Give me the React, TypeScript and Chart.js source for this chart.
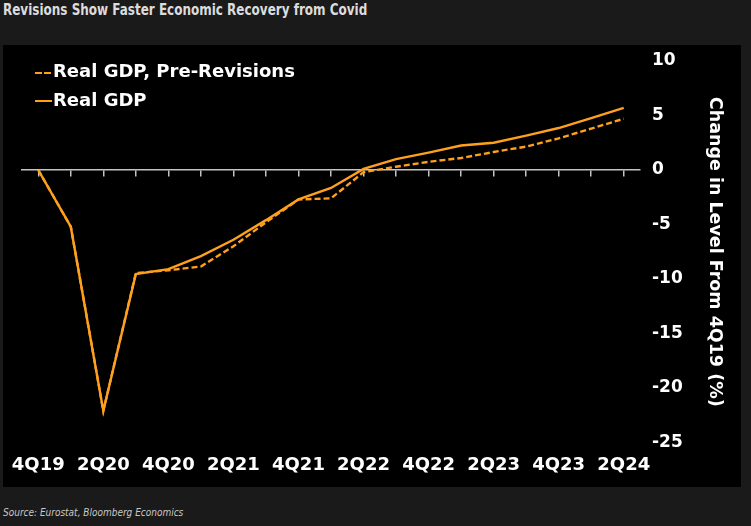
import React, { useEffect, useRef } from 'react';
import { Chart, registerables } from 'chart.js';

Chart.register(...registerables);

const quarters = [
  '4Q19', '1Q20', '2Q20', '3Q20', '4Q20', '1Q21', '2Q21', '3Q21', '4Q21', '1Q22',
  '2Q22', '3Q22', '4Q22', '1Q23', '2Q23', '3Q23', '4Q23', '1Q24', '2Q24',
];
const xTickLabels = ['4Q19', '2Q20', '4Q20', '2Q21', '4Q21', '2Q22', '4Q22', '2Q23', '4Q23', '2Q24'];

const realGdp = [0, -5.2, -22.1, -9.55, -9.1, -7.9, -6.4, -4.6, -2.7, -1.65, 0.1, 1.0, 1.6, 2.25, 2.5, 3.15, 3.85, 4.75, 5.7];
const realGdpPre = [0, -5.2, -22.1, -9.45, -9.2, -8.85, -7.0, -4.8, -2.7, -2.6, -0.2, 0.3, 0.75, 1.1, 1.65, 2.15, 2.9, 3.8, 4.7];

const seriesNames = ['Real GDP, Pre-Revisions', 'Real GDP'];
const yMin = -25;
const yMax = 10;
const yStep = 5;
const yTitle = 'Change in Level From 4Q19 (%)';

const ORANGE = '#ffa01c';
const AXIS_GREY = '#c4c4c4';
const FONT = "'DejaVu Sans', sans-serif";
const NARROW = "'Liberation Sans Narrow', 'DejaVu Sans Condensed', sans-serif";

export default function App() {
  const ref = useRef<HTMLCanvasElement>(null);

  useEffect(() => {
    document.body.style.margin = '0';
    document.body.style.background = '#1a1a1a';
    const canvas = ref.current!;
    const chart = new Chart(canvas, {
      type: 'line',
      data: {
        labels: quarters,
        datasets: [
          {
            label: seriesNames[1],
            data: realGdp,
            borderColor: ORANGE,
            borderWidth: 2.4,
            pointRadius: 0,
            tension: 0,
            fill: false,
          },
          {
            label: seriesNames[0],
            data: realGdpPre,
            borderColor: ORANGE,
            borderWidth: 2.4,
            borderDash: [6, 3],
            pointRadius: 0,
            tension: 0,
            fill: false,
          },
        ],
      },
      options: {
        responsive: false,
        animation: false,
        maintainAspectRatio: false,
        layout: { padding: { left: 19, top: 16, right: 0, bottom: 0 } },
        plugins: {
          legend: { display: false },
          tooltip: { enabled: false },
          title: { display: false },
        },
        scales: {
          x: {
            type: 'category',
            position: 'bottom',
            offset: true,
            grid: { display: false, drawTicks: false },
            border: { display: false },
            ticks: {
              autoSkip: false,
              maxRotation: 0,
              minRotation: 0,
              padding: 12,
              color: '#ffffff',
              font: { family: FONT, size: 18, weight: 'bold' },
              callback: (_v: any, index: number) => {
                const l = quarters[index];
                return xTickLabels.includes(l) ? l : '';
              },
            },
            afterFit: (s: any) => {
              s.height = 44.5;
              s.paddingLeft = 0;
              s.paddingRight = 0;
            },
          },
          x2: {
            type: 'category',
            axis: 'x',
            position: { y: 0 },
            offset: true,
            grid: {
              display: true,
              drawOnChartArea: false,
              drawTicks: true,
              tickLength: 6,
              color: AXIS_GREY,
              lineWidth: 1.5,
            },
            border: { display: true, color: AXIS_GREY, width: 1.5 },
            ticks: { display: false },
            afterFit: (s: any) => {
              s.height = 0;
              s.paddingLeft = 0;
              s.paddingRight = 0;
            },
          },
          y: {
            type: 'linear',
            position: 'right',
            min: yMin,
            max: yMax,
            grid: { display: false, drawTicks: false },
            border: { display: false },
            ticks: {
              stepSize: yStep,
              padding: 12,
              color: '#ffffff',
              font: { family: FONT, size: 17, weight: 'bold' },
            },
            title: {
              display: true,
              text: yTitle,
              color: '#ffffff',
              font: { family: FONT, size: 17.5, weight: 'bold' },
              padding: { top: 16, bottom: 0 },
            },
            afterFit: (s: any) => {
              s.width = 101;
              s.paddingTop = 0;
              s.paddingBottom = 0;
            },
          },
        },
      } as any,
    });
    return () => chart.destroy();
  }, []);

  const legendText: React.CSSProperties = {
    position: 'absolute',
    left: 53,
    color: '#ffffff',
    fontFamily: FONT,
    fontWeight: 'bold',
    fontSize: 18,
    lineHeight: '20px',
    whiteSpace: 'nowrap',
  };

  return (
    <div style={{ position: 'relative', width: 751, height: 526, background: '#1a1a1a', overflow: 'hidden' }}>
      <div
        style={{
          position: 'absolute',
          left: 3,
          top: 3,
          color: '#dcdcdc',
          fontFamily: NARROW,
          fontWeight: 'bold',
          fontSize: 15.5,
          lineHeight: '15px',
          whiteSpace: 'nowrap',
          transform: 'scaleX(0.86)',
          transformOrigin: 'left top',
        }}
      >
        Revisions Show Faster Economic Recovery from Covid
      </div>
      <div style={{ position: 'absolute', left: 3, top: 45, width: 738, height: 442, background: '#000000' }}>
        <canvas ref={ref} width={738} height={442} style={{ display: 'block', width: 738, height: 442 }} />
      </div>
      <div
        style={{
          position: 'absolute',
          left: 35,
          top: 72,
          width: 17,
          height: 2,
          background: `repeating-linear-gradient(to right, ${ORANGE} 0px, ${ORANGE} 7px, transparent 7px, transparent 9px)`,
        }}
      />
      <div style={{ ...legendText, top: 61 }}>{seriesNames[0]}</div>
      <div style={{ position: 'absolute', left: 35, top: 100, width: 17, height: 2, background: ORANGE }} />
      <div style={{ ...legendText, top: 90 }}>{seriesNames[1]}</div>
      <div
        style={{
          position: 'absolute',
          left: 3,
          top: 505.5,
          color: '#c8c8c8',
          fontFamily: NARROW,
          fontStyle: 'italic',
          fontSize: 10.5,
          lineHeight: '12px',
          whiteSpace: 'nowrap',
          transform: 'scaleX(0.95)',
          transformOrigin: 'left top',
        }}
      >
        Source: Eurostat, Bloomberg Economics
      </div>
    </div>
  );
}
